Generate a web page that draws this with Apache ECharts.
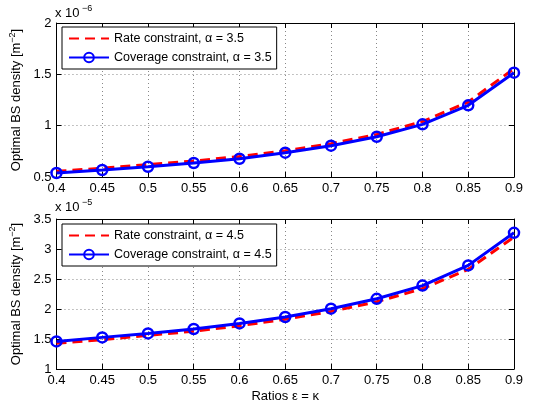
<!DOCTYPE html>
<html><head><meta charset="utf-8">
<script src="https://cdn.jsdelivr.net/npm/echarts@6/dist/echarts.min.js"></script>
<style>html,body{margin:0;padding:0;background:#fff}#c{width:537px;height:407px}</style>
</head><body><div id="c"></div>
<script>
// x values (ratios eps = kappa)
var ratios = [0.4, 0.45, 0.5, 0.55, 0.6, 0.65, 0.7, 0.75, 0.8, 0.85, 0.9];
// top panel, alpha = 3.5, units of 1e-6 m^-2
var rate35 = [0.555, 0.585, 0.62, 0.655, 0.70, 0.755, 0.825, 0.915, 1.04, 1.23, 1.555];
var cov35  = [0.539, 0.568, 0.60, 0.636, 0.678, 0.737, 0.805, 0.892, 1.013, 1.198, 1.516];
// bottom panel, alpha = 4.5, units of 1e-5 m^-2
var rate45 = [1.43, 1.49, 1.56, 1.63, 1.72, 1.83, 1.96, 2.12, 2.34, 2.66, 3.2];
var cov45  = [1.46, 1.527, 1.593, 1.667, 1.76, 1.867, 2.005, 2.17, 2.39, 2.727, 3.27];
// axis settings
var xTicks = {min: 0.4, max: 0.9, step: 0.05};
var yTop = {min: 0.5, max: 2, step: 0.5};
var yBot = {min: 1, max: 3.5, step: 0.5};
var names = ['Rate constraint, \u03b1 = 3.5', 'Coverage constraint, \u03b1 = 3.5',
             'Rate constraint, \u03b1 = 4.5', 'Coverage constraint, \u03b1 = 4.5'];

var FONT = 'Liberation Sans, Arial, sans-serif';
function pairs(ys){ return ratios.map(function(x,i){return [x, ys[i]];}); }
function fmt(v){ return String(Math.round(v*100)/100); }

function xAx(gi, bottom){
  return {
    type:'value', gridIndex:gi, min:xTicks.min, max:xTicks.max, interval:xTicks.step,
    position: bottom ? 'bottom' : 'top',
    axisLine:{show:true, onZero:false, lineStyle:{color:'#000', width:1}},
    axisTick:{show:true, inside:true, length:5, lineStyle:{color:'#000'}},
    axisLabel:{show:bottom, color:'#000', fontSize:13, fontFamily:FONT, margin:5, formatter:fmt},
    splitLine:{show:bottom, lineStyle:{color:'#888', type:[1,3], width:1}}
  };
}
function yAx(gi, cfg, left){
  return {
    type:'value', gridIndex:gi, min:cfg.min, max:cfg.max, interval:cfg.step,
    position: left ? 'left' : 'right',
    axisLine:{show:true, onZero:false, lineStyle:{color:'#000', width:1}},
    axisTick:{show:true, inside:true, length:5, lineStyle:{color:'#000'}},
    axisLabel:{show:left, color:'#000', fontSize:13, fontFamily:FONT, margin:5, formatter:fmt},
    splitLine:{show:left, lineStyle:{color:'#888', type:[1,3], width:1}},
    name: left ? '{a|Optimal BS density [m}{s|\u22122}{a|]}' : '',
    nameLocation:'middle', nameGap:27, nameRotate:90,
    nameTextStyle:{rich:{a:{fontSize:13, fontFamily:FONT, color:'#000'}, s:{fontSize:9, fontFamily:FONT, color:'#000', padding:[0,0,7,0]}}}
  };
}
function redSeries(name, xi, yi, d){
  return {name:name, type:'line', xAxisIndex:xi, yAxisIndex:yi, data:pairs(d),
    symbol:'none', lineStyle:{color:'#ff0000', width:3, type:[10,6]}, itemStyle:{color:'#ff0000'}, z:2, animation:false};
}
function blueSeries(name, xi, yi, d){
  return {name:name, type:'line', xAxisIndex:xi, yAxisIndex:yi, data:pairs(d),
    symbol:'circle', symbolSize:10, showSymbol:true,
    lineStyle:{color:'#0000ff', width:3}, itemStyle:{color:'rgba(0,0,0,0)', borderColor:'#0000ff', borderWidth:2.5}, z:3, animation:false};
}
var x2 = xAx(1, true);
x2.name = 'Ratios \u03b5 = \u03ba'; x2.nameLocation='middle'; x2.nameGap=21;
x2.nameTextStyle = {fontSize:13, fontFamily:FONT, color:'#000'};

var legendCommon = {orient:'vertical', backgroundColor:'#fff', borderColor:'#000', borderWidth:1,
  padding:[5,5,5,6], itemGap:6, itemWidth:40, itemHeight:12,
  textStyle:{fontSize:12.5, fontFamily:FONT, color:'#000'}};

var option = {
  animation:false,
  backgroundColor:'#fff',
  grid:[{left:55, right:23, top:23, height:154}, {left:55, right:23, top:219, height:150}],
  xAxis:[xAx(0,true), xAx(0,false), x2, xAx(1,false)],
  yAxis:[yAx(0,yTop,true), yAx(0,yTop,false), yAx(1,yBot,true), yAx(1,yBot,false)],
  legend:[
    Object.assign({}, legendCommon, {left:62, top:27, data:[{name:names[0], itemStyle:{opacity:0}}, names[1]]}),
    Object.assign({}, legendCommon, {left:62, top:224, data:[{name:names[2], itemStyle:{opacity:0}}, names[3]]})
  ],
  graphic:[
    {type:'text', left:55, top:7, style:{text:'x 10', font:'13px '+FONT, fill:'#000'}},
    {type:'text', left:82, top:4, style:{text:'\u22126', font:'9px '+FONT, fill:'#000'}},
    {type:'text', left:55, top:201, style:{text:'x 10', font:'13px '+FONT, fill:'#000'}},
    {type:'text', left:82, top:198, style:{text:'\u22125', font:'9px '+FONT, fill:'#000'}}
  ],
  series:[
    redSeries(names[0],0,0,rate35), blueSeries(names[1],0,0,cov35),
    redSeries(names[2],2,2,rate45), blueSeries(names[3],2,2,cov45)
  ]
};
var chart = echarts.init(document.getElementById('c'), null, {renderer:'canvas'});
chart.setOption(option);
</script></body></html>
